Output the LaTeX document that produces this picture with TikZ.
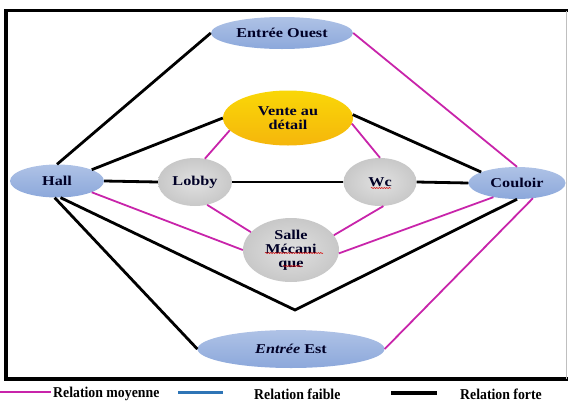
\documentclass[tikz,border=0pt]{standalone}
\usepackage{fontspec}
\setmainfont{Liberation Serif}
\newfontfamily\roomfont[FakeStretch=1.2]{Liberation Serif}
\newfontfamily\keyfont[FakeStretch=0.92]{Liberation Serif}
\usetikzlibrary{shapes.geometric,decorations.pathmorphing}

\definecolor{roomblue}{RGB}{140,168,219}
\definecolor{roomgrey}{RGB}{200,200,200}
\definecolor{roomgold}{RGB}{245,182,12}
\definecolor{relmoy}{RGB}{200,36,170}
\definecolor{relfaible}{RGB}{46,117,182}

\begin{document}
\begin{tikzpicture}[x=1pt, y=-1pt,
    room/.style={ellipse, inner sep=0pt, align=center, text=black!85!blue,
      font=\roomfont\bfseries\fontsize{13.5}{14}\selectfont},
    blueroom/.style={room, top color=roomblue!70!white, bottom color=roomblue},
    greyroom/.style={room, inner color=roomgrey!55!white, outer color=roomgrey},
    goldroom/.style={room, top color=roomgold!55!yellow, bottom color=roomgold},
    forte/.style={line width=2.8pt, black},
    moyenne/.style={line width=1.8pt, relmoy},
    faible/.style={line width=3pt, relfaible},
    legend/.style={inner sep=0pt, anchor=west, font=\keyfont\bfseries\fontsize{15}{16}\selectfont},
    squiggle/.style={red!85!black, line width=.5pt, decorate,
      decoration={snake, amplitude=.6pt, segment length=2.5pt}}]
  \useasboundingbox (0,0) rectangle (568,405);

  % frame
  \draw[line width=3.5pt] (568,10.5) -- (6,10.5) -- (6,379) -- (568,379);
  \draw[black!25, line width=1pt] (566.5,10.5) -- (566.5,379);

  % rooms
  \node[blueroom, minimum width=142pt, minimum height=32pt] (ouest) at (282,33) {Entrée Ouest};
  \node[goldroom, minimum width=130pt, minimum height=55pt] (vente) at (288,118) {Vente au\\détail};
  \node[blueroom, minimum width=94pt, minimum height=33pt] (hall) at (57,181) {Hall};
  \node[greyroom, minimum width=74pt, minimum height=48pt] (lobby) at (195,182) {Lobby};
  \node[greyroom, minimum width=73pt, minimum height=48pt] (wc) at (380,182) {Wc};
  \node[blueroom, minimum width=97pt, minimum height=32pt] (couloir) at (517,183) {Couloir};
  \node[greyroom, minimum width=96pt, minimum height=64pt] (salle) at (291,250) {Salle\\Mécani\\que};
  \node[blueroom, minimum width=187pt, minimum height=38pt] (est) at (291,349) {\textit{Entrée} Est};
  \coordinate (v) at (295,310);

  % spell-check marks
  \draw[squiggle] ([shift={(-9,6)}]wc.center) -- ([shift={(11,6)}]wc.center);
  \draw[squiggle] ([shift={(-26,3)}]salle.center) -- ([shift={(32,3)}]salle.center);
  \draw[squiggle] ([shift={(-8,16)}]salle.center) -- ([shift={(11,16)}]salle.center);

  % strong relations
  \draw[forte] (hall.north) -- (ouest.west);
  \draw[forte] (hall.18) -- (vente.west);
  \draw[forte] (hall.east) -- (lobby.west);
  \draw[forte] (lobby.east) -- (wc.west);
  \draw[forte] (wc.east) -- (couloir.west);
  \draw[forte] (vente.3) -- (couloir.163);
  \draw[forte] (hall.-78) -- (v) -- (couloir.south);
  \draw[forte] (hall.-98) -- (est.west);

  % medium relations
  \draw[moyenne] (ouest.east) -- (couloir.north);
  \draw[moyenne] (vente.192) -- (lobby.67);
  \draw[moyenne] (vente.-5) -- (wc.north);
  \draw[moyenne] (lobby.-62) -- (salle.156);
  \draw[moyenne] (wc.-82) -- (salle.19);
  \draw[moyenne] (hall.-18) -- (salle.west);
  \draw[moyenne] (salle.-4) -- (couloir.211);
  \draw[moyenne] (couloir.-44) -- (est.east);

  % legend
  \node[legend] (lmoy) at (53,394) {Relation moyenne};
  \node[legend] (lfai) at (254,394) {Relation faible};
  \node[legend] (lfor) at (460,394) {Relation forte};
  \coordinate (kmoy) at (0,392);
  \coordinate (kfai) at (178,392);
  \coordinate (kfor) at (391,393);
  \draw[moyenne] (kmoy) -- ++(51,0);
  \draw[faible] (kfai) -- ++(45,0);
  \draw[forte, line width=4pt] (kfor) -- ++(46,0);
\end{tikzpicture}
\end{document}
